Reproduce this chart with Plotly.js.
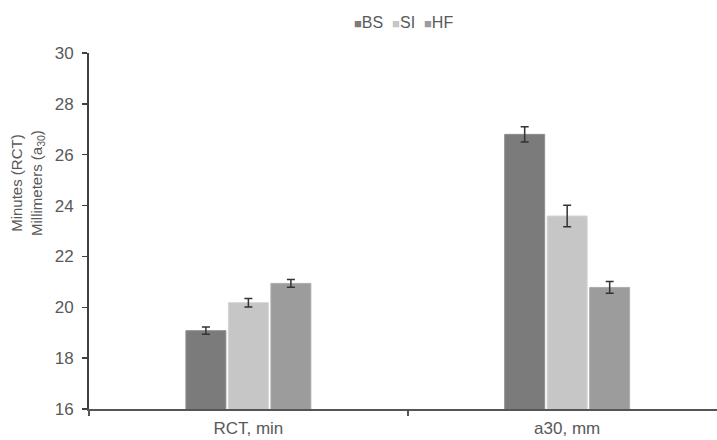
<!DOCTYPE html>
<html>
<head>
<meta charset="utf-8">
<script src="https://cdn.plot.ly/plotly-3.0.1.min.js"></script>
<style>html,body{margin:0;padding:0;background:#fff;}#chart{width:717px;height:440px;}</style>
</head>
<body>
<div id="chart"></div>
<script>
const categories = ["RCT, min", "a30, mm"];
const seriesNames = ["BS", "SI", "HF"];
const bsValues = [19.08, 26.80];
const siValues = [20.18, 23.59];
const hfValues = [20.94, 20.78];
const bsErrors = [0.14, 0.30];
const siErrors = [0.17, 0.42];
const hfErrors = [0.15, 0.23];
const yTickVals = [16, 18, 20, 22, 24, 26, 28, 30];

const fills = ["#7b7b7b", "#c6c6c6", "#9c9c9c"];
const outlines = ["#8e8e8e", "#d4d4d4", "#adadad"];
const valueSets = [bsValues, siValues, hfValues];
const errorSets = [bsErrors, siErrors, hfErrors];

const traces = seriesNames.map((name, i) => ({
  type: "bar",
  name: name,
  x: categories,
  y: valueSets[i],
  showlegend: false,
  marker: {color: fills[i], line: {color: outlines[i], width: 1}},
  error_y: {type: "data", array: errorSets[i], visible: true, color: "#333333", thickness: 1.5, width: 4}
}));

const textColor = "#595959";
const legendText = seriesNames.map((name, i) =>
  '<span style="color:' + fills[i] + ';font-size:13px">■</span>' + name).join("&nbsp;&nbsp;");

const layout = {
  width: 717, height: 440,
  margin: {l: 89, r: 0, t: 53, b: 31, pad: 0},
  paper_bgcolor: "#ffffff", plot_bgcolor: "#ffffff",
  font: {family: "Liberation Sans, Arial, sans-serif", size: 16, color: textColor},
  barmode: "group",
  bargap: 0.6,
  bargroupgap: 0.06,
  showlegend: false,
  xaxis: {type: "category", range: [-0.5, 1.47], showline: true, linecolor: "#555555", linewidth: 2,
          ticks: "outside", tickson: "boundaries", ticklen: 5, tickcolor: "#555555", tickwidth: 2,
          showgrid: false, zeroline: false, tickfont: {size: 17, color: textColor}, ticklabelstandoff: 3},
  yaxis: {range: [16, 30], tickvals: yTickVals, showline: true, linecolor: "#404040", linewidth: 2,
          ticks: "outside", ticklen: 5, tickcolor: "#404040", tickwidth: 1.5, showgrid: false,
          zeroline: false, tickfont: {size: 17, color: textColor}, ticklabelstandoff: 5},
  annotations: [{
    text: "Minutes (RCT)<br>Millimeters (a<sub>30</sub>)",
    xref: "paper", yref: "paper", x: -0.097, y: 0.635, xanchor: "center", yanchor: "middle",
    textangle: -90, showarrow: false, font: {size: 15, color: textColor}
  }, {
    text: legendText,
    xref: "paper", yref: "paper", x: 0.5, y: 1.085, xanchor: "center", yanchor: "middle",
    showarrow: false, font: {size: 16, color: textColor}
  }]
};

Plotly.newPlot("chart", traces, layout, {displayModeBar: false, staticPlot: true});
</script>
</body>
</html>
